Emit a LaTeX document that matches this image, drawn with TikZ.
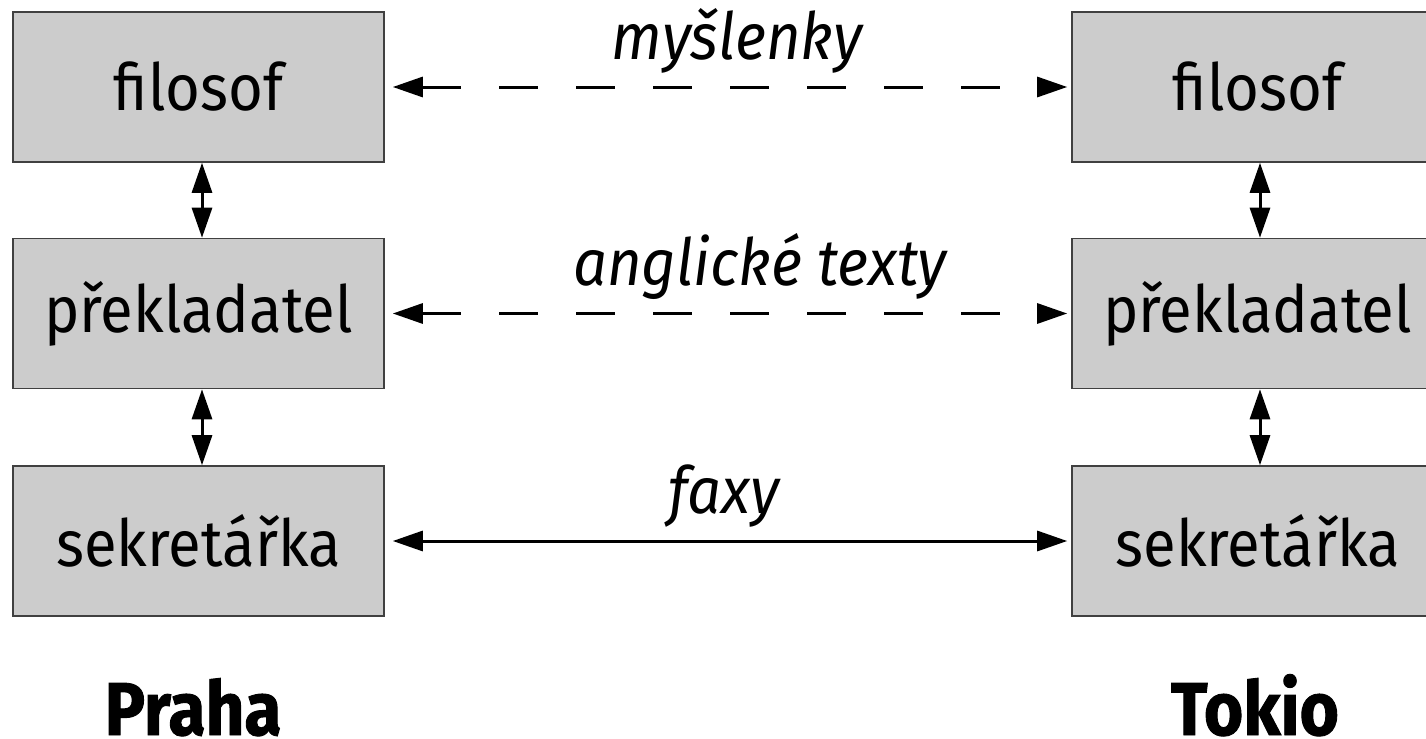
\documentclass[tikz,border=0pt]{standalone}
\usepackage{fontspec}
\setmainfont{Fira Sans}
\newfontfamily\boxfont[FakeStretch=0.92]{Fira Sans}
\newfontfamily\cityfont[FakeStretch=0.9,BoldFeatures={FakeBold=1.2}]{Fira Sans}
\usetikzlibrary{arrows.meta}
\begin{document}
\begin{tikzpicture}[x=0.5pt,y=-0.5pt,
  box/.style={draw=black!75,line width=0.8pt,fill=black!20,minimum width=185.5pt,minimum height=75pt,inner sep=0pt,font=\boxfont\fontsize{32.5}{38}\selectfont},
  conn/.style={line width=1.5pt,{Triangle[length=15pt,width=10pt]}-{Triangle[length=15pt,width=10pt]}},
  dsh/.style={dash pattern=on 19.5pt off 19pt},
  lbl/.style={font=\boxfont\fontsize{32.5}{38}\selectfont\itshape,inner sep=0pt},
  city/.style={font=\cityfont\fontsize{37.5}{44}\selectfont\bfseries,inner sep=0pt,text depth=0pt}]
\useasboundingbox (0,0) rectangle (1426,739);
\node[box] (lf) at (198.5,87) {filosof};
\node[box] (lp) at (198.5,313.5) {překladatel};
\node[box] (ls) at (198.5,541) {sekretářka};
\node[box] (rf) at (1257.5,87) {filosof};
\node[box] (rp) at (1257.5,313.5) {překladatel};
\node[box] (rs) at (1257.5,541) {sekretářka};
\draw[conn,dsh] ([xshift=4pt]lf.east) -- ([xshift=-2pt]rf.west) node[midway,above=6pt,xshift=3.5pt,lbl] (m1) {myšlenky};
\draw[conn,dsh] ([xshift=4pt]lp.east) -- ([xshift=-2pt]rp.west) node[midway,above=6pt,xshift=15pt,lbl] (m2) {anglické texty};
\draw[conn] ([xshift=4pt]ls.east) -- ([xshift=-2pt]rs.west) node[midway,above=6pt,xshift=-3pt,lbl] (m3) {faxy};
\draw[conn] ([xshift=1.75pt]lf.south) -- ([xshift=1.75pt]lp.north);
\draw[conn] ([xshift=1.75pt]lp.south) -- ([xshift=1.75pt]ls.north);
\draw[conn] ([xshift=1.25pt]rf.south) -- ([xshift=1.25pt]rp.north);
\draw[conn] ([xshift=1.25pt]rp.south) -- ([xshift=1.25pt]rs.north);
\node[city,anchor=base] (praha) at (193,735) {Praha};
\node[city,anchor=base] (tokio) at (1255,735) {Tokio};
\end{tikzpicture}
\end{document}
